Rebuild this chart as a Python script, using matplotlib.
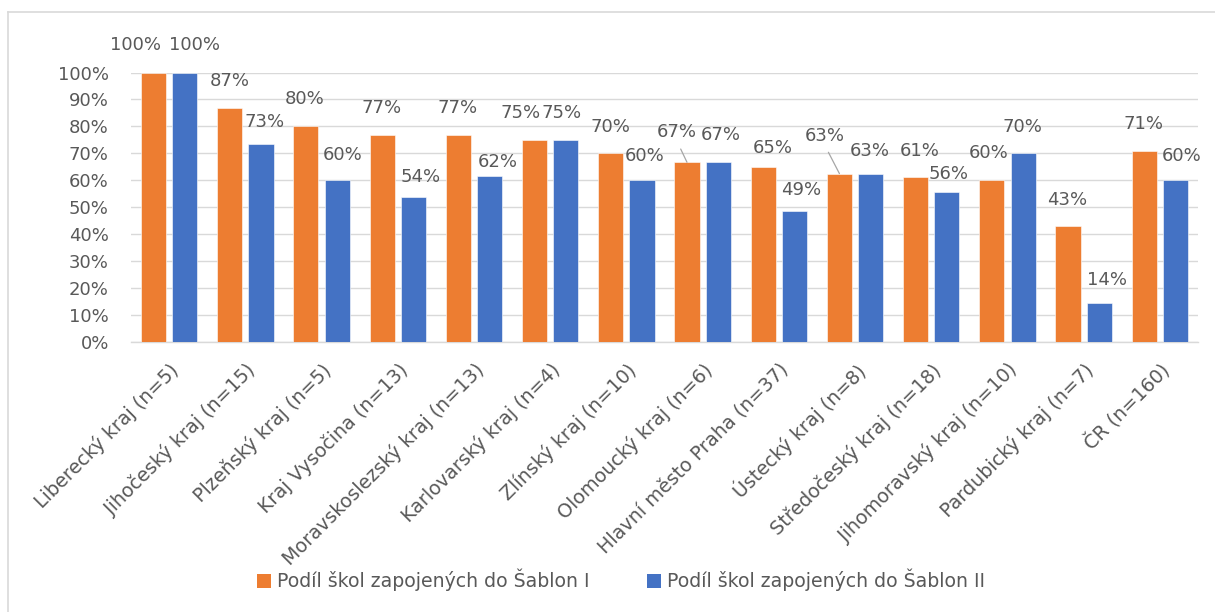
import matplotlib
matplotlib.use("Agg")
import matplotlib.pyplot as plt
import numpy as np
from matplotlib.patches import Patch
from matplotlib.lines import Line2D

plt.rcParams['font.family'] = ['DejaVu Sans']

categories = [
    "Liberecký kraj (n=5)", "Jihočeský kraj (n=15)", "Plzeňský kraj (n=5)",
    "Kraj Vysočina (n=13)", "Moravskoslezský kraj (n=13)", "Karlovarský kraj (n=4)",
    "Zlínský kraj (n=10)", "Olomoucký kraj (n=6)", "Hlavní město Praha (n=37)",
    "Ústecký kraj (n=8)", "Středočeský kraj (n=18)", "Jihomoravský kraj (n=10)",
    "Pardubický kraj (n=7)", "ČR (n=160)",
]
sablony_I = [100, 86.7, 80, 76.9, 76.9, 75, 70, 66.7, 64.9, 62.5, 61.1, 60, 42.9, 71]
sablony_II = [100, 73.3, 60, 53.8, 61.5, 75, 60, 66.7, 48.6, 62.5, 55.6, 70, 14.3, 60]
labels_I = ["100%", "87%", "80%", "77%", "77%", "75%", "70%", "67%", "65%", "63%", "61%", "60%", "43%", "71%"]
labels_II = ["100%", "73%", "60%", "54%", "62%", "75%", "60%", "67%", "49%", "63%", "56%", "70%", "14%", "60%"]
series_names = ["Podíl škol zapojených do Šablon I", "Podíl škol zapojených do Šablon II"]
yticks = [0, 10, 20, 30, 40, 50, 60, 70, 80, 90, 100]

# label placement offsets (pixels: right, up) relative to bar top
off_I = [(-18, 27), (0, 27), (-1, 27), (-1, 27), (-1, 27), (-14, 27), (0, 26),
         (-10, 30), (10, 19), (-15, 38), (4, 26), (-3, 27), (-1, 26), (-1, 27)]
off_II = [(10, 27), (4, 22), (5, 25), (7, 20), (8, 14), (-4, 27), (3, 24),
          (3, 27), (7, 21), (-1, 23), (2, 18), (-1, 26), (8, 23), (6, 24)]
leader_I = [7, 9]

ORANGE = "#ED7D31"
BLUE = "#4472C4"
TXT = "#595959"
GRID = "#D9D9D9"

fig = plt.figure(figsize=(12.15, 6.12), dpi=100)
ax = fig.add_axes([131 / 1215, 1 - 342 / 612, 1067 / 1215, 269.5 / 612])

x = np.arange(len(categories))
w = 0.33
off = 0.205
ax.bar(x - off, sablony_I, w, color=ORANGE, edgecolor="white", linewidth=0.4, zorder=3)
ax.bar(x + off, sablony_II, w, color=BLUE, edgecolor="white", linewidth=0.4, zorder=3)

fs = 13
for i in range(len(categories)):
    dx, dy = off_I[i]
    kw = {}
    if i in leader_I:
        kw['arrowprops'] = dict(arrowstyle='-', color='#A6A6A6', lw=0.9,
                                relpos=(0.5, 0.0), shrinkA=4, shrinkB=0)
    ax.annotate(labels_I[i], xy=(x[i] - off, sablony_I[i]), xytext=(dx, dy),
                textcoords='offset pixels', ha='center', va='center',
                fontsize=fs, color=TXT, annotation_clip=False, **kw)
    dx, dy = off_II[i]
    ax.annotate(labels_II[i], xy=(x[i] + off, sablony_II[i]), xytext=(dx, dy),
                textcoords='offset pixels', ha='center', va='center',
                fontsize=fs, color=TXT, annotation_clip=False)

ax.set_xlim(-0.5, len(categories) - 0.5)
ax.set_ylim(0, 100)
ax.set_yticks(yticks)
ax.set_yticklabels([f"{v}%" for v in yticks], fontsize=fs, color=TXT)
ax.set_xticks(x)
ax.set_xticklabels(categories, rotation=45, ha='right', va='top',
                   rotation_mode='anchor', fontsize=13.8, color=TXT)
ax.tick_params(axis='y', length=0, pad=16)
ax.tick_params(axis='x', length=0, pad=13)
ax.grid(axis='y', color=GRID, linewidth=1, zorder=0)
for s in ['top', 'right', 'left']:
    ax.spines[s].set_visible(False)
ax.spines['bottom'].set_color(GRID)
ax.spines['bottom'].set_linewidth(1)

handles = [Patch(facecolor=ORANGE), Patch(facecolor=BLUE)]
fig.legend(handles, series_names, loc='center', bbox_to_anchor=(621 / 1215, 1 - 580 / 612),
           ncol=2, frameon=False, fontsize=13.6, labelcolor=TXT, handlelength=0.75,
           handleheight=0.75, handletextpad=0.35, columnspacing=3.0)

# chart area border (left/top visible)
fig.add_artist(Line2D([8 / 1215, 8 / 1215], [0, 1 - 12 / 612], transform=fig.transFigure,
                      color=GRID, lw=1.2))
fig.add_artist(Line2D([8 / 1215, 1], [1 - 12 / 612, 1 - 12 / 612], transform=fig.transFigure,
                      color=GRID, lw=1.2))

fig.savefig("out.png", dpi=100, facecolor="white")
